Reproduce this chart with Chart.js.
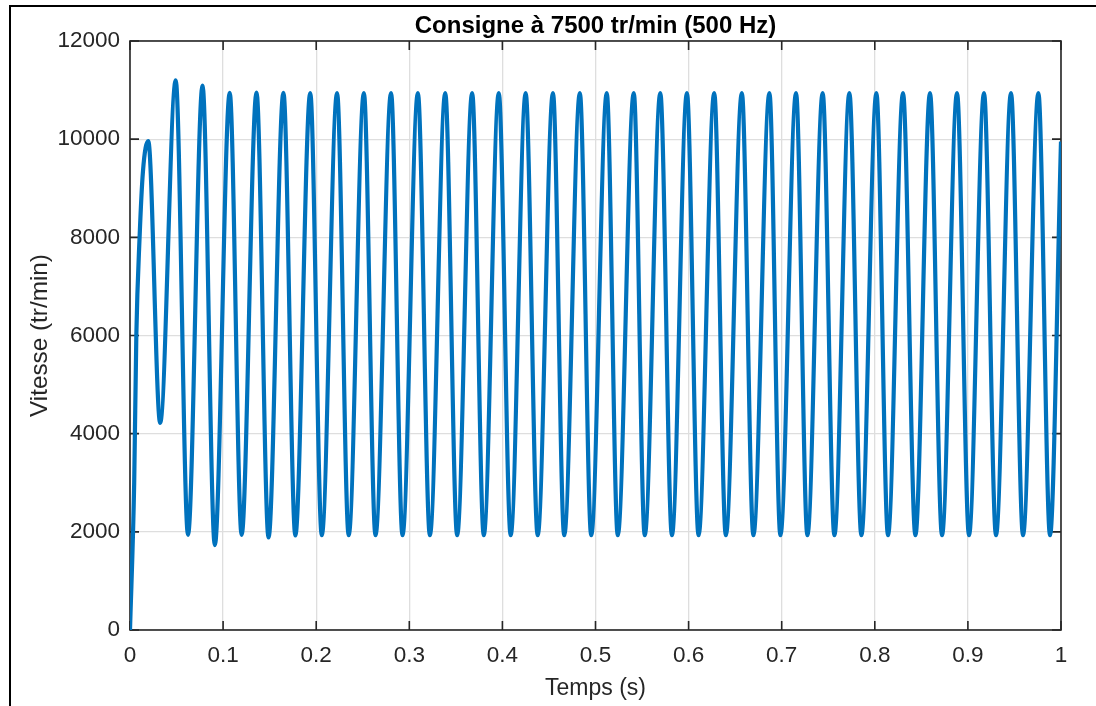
<!DOCTYPE html>
<html>
<head>
<meta charset="utf-8">
<script src="https://cdn.jsdelivr.net/npm/chart.js@4/dist/chart.umd.min.js"></script>
<style>
  html, body { margin: 0; padding: 0; background: #fff; }
  #wrap { position: relative; width: 1096px; height: 706px; overflow: hidden; }
  #frame {
    position: absolute; left: 9px; top: 5px; width: 1200px; height: 800px;
    border-top: 2px solid #000; border-left: 2px solid #000; pointer-events: none;
  }
</style>
</head>
<body>
<div id="wrap">
  <canvas id="speed" width="1096" height="706"></canvas>
  <div id="frame"></div>
</div>
<script>
/* Vitesse moteur, consigne 7500 tr/min : valeurs */

const TITLE = 'Consigne à 7500 tr/min (500 Hz)';

// montée initiale
const riseTimes  = [0, 0.0045, 0.0068, 0.0103, 0.0139];
const riseSpeeds = [0, 3000, 6000, 8000, 9340];

// sommets
const peakTimes = [
  0.0196, 0.0491, 0.0779, 0.1071, 0.1359, 0.1648, 0.1936, 0.2224, 0.2512, 0.2804,
  0.3092, 0.3386, 0.3675, 0.3961, 0.4250, 0.4543, 0.4832, 0.5121, 0.5411, 0.5696,
  0.5982, 0.6275, 0.6572, 0.6868, 0.7154, 0.7440, 0.7727, 0.8017, 0.8303, 0.8593,
  0.8883, 0.9173, 0.9463, 0.9757,
];
const peakSpeeds = [
  9960, 11200, 11090, 10945, 10950, 10945, 10940, 10940, 10940, 10940,
  10940, 10940, 10940, 10940, 10940, 10940, 10940, 10940, 10940, 10940,
  10940, 10940, 10940, 10940, 10940, 10940, 10940, 10940, 10940, 10940,
  10940, 10940, 10940, 10940,
];

// creux
const troughTimes = [
  0.0324, 0.0623, 0.0911, 0.1199, 0.1488, 0.1776, 0.2060, 0.2349, 0.2637, 0.2927,
  0.3221, 0.3514, 0.3800, 0.4089, 0.4379, 0.4664, 0.4954, 0.5239, 0.5529, 0.5821,
  0.6107, 0.6400, 0.6696, 0.6986, 0.7276, 0.7566, 0.7856, 0.8142, 0.8436, 0.8722,
  0.9012, 0.9302, 0.9592, 0.9882,
];
const troughSpeeds = [
  4220, 1940, 1730, 1940, 1885, 1925, 1930, 1930, 1930, 1930,
  1930, 1930, 1930, 1930, 1930, 1930, 1930, 1930, 1930, 1930,
  1930, 1930, 1930, 1930, 1930, 1930, 1930, 1930, 1930, 1930,
  1930, 1930, 1930, 1930,
];

// dernier échantillon
const endTimes  = [1.0];
const endSpeeds = [9950];

const xTicks = [0, 0.1, 0.2, 0.3, 0.4, 0.5, 0.6, 0.7, 0.8, 0.9, 1];
const yTicks = [0, 2000, 4000, 6000, 8000, 10000, 12000];

const TXT = '#262626';
const FONT = '"Liberation Sans", Arial, Helvetica, sans-serif';

function toPoints(ts, vs) {
  return ts.map((t, i) => ({ x: t, y: vs[i] }));
}

const points = []
  .concat(toPoints(riseTimes, riseSpeeds))
  .concat(toPoints(peakTimes, peakSpeeds))
  .concat(toPoints(troughTimes, troughSpeeds))
  .concat(toPoints(endTimes, endSpeeds))
  .sort((a, b) => a.x - b.x);

// boîte d'axes façon MATLAB : cadre + graduations vers l'intérieur, titre centré sur les axes
const matlabBox = {
  id: 'matlabBox',
  beforeDatasetsDraw(chart) {
    const { ctx, chartArea: a, scales: { x, y } } = chart;
    const len = 9;
    ctx.save();
    ctx.strokeStyle = TXT;
    ctx.lineWidth = 1.6;
    ctx.beginPath();
    xTicks.forEach(v => {
      const px = x.getPixelForValue(v);
      ctx.moveTo(px, a.bottom); ctx.lineTo(px, a.bottom - len);
      ctx.moveTo(px, a.top);    ctx.lineTo(px, a.top + len);
    });
    yTicks.forEach(v => {
      const py = y.getPixelForValue(v);
      ctx.moveTo(a.left, py);  ctx.lineTo(a.left + len, py);
      ctx.moveTo(a.right, py); ctx.lineTo(a.right - len, py);
    });
    ctx.stroke();
    ctx.strokeRect(a.left, a.top, a.right - a.left, a.bottom - a.top);
    ctx.restore();
  },
  afterDraw(chart) {
    const { ctx, chartArea: a } = chart;
    ctx.save();
    ctx.fillStyle = '#000';
    ctx.font = 'bold 24px ' + FONT;
    ctx.textAlign = 'center';
    ctx.textBaseline = 'middle';
    ctx.fillText(TITLE, (a.left + a.right) / 2, 26);
    ctx.restore();
  },
};

new Chart(document.getElementById('speed'), {
  type: 'line',
  data: {
    datasets: [{
      data: points,
      borderColor: '#0072BD',
      borderWidth: 4.2,
      pointRadius: 0,
      fill: false,
      cubicInterpolationMode: 'monotone',
    }],
  },
  options: {
    responsive: false,
    animation: false,
    devicePixelRatio: 1,
    layout: { padding: { left: 0, right: 35, top: 41, bottom: 0 } },
    plugins: {
      legend: { display: false },
      tooltip: { enabled: false },
      title: { display: false },
    },
    scales: {
      x: {
        type: 'linear', min: 0, max: 1,
        afterFit: s => { s.height = 76; },
        afterBuildTicks: s => { s.ticks = xTicks.map(v => ({ value: v })); },
        grid: { color: '#dedede', lineWidth: 1.3, drawTicks: false },
        border: { display: false },
        ticks: {
          color: TXT, padding: 12, maxRotation: 0, autoSkip: false,
          font: { family: FONT, size: 22.5 },
          callback: v => String(+v.toFixed(1)),
        },
        title: {
          display: true, text: 'Temps (s)', color: TXT,
          font: { family: FONT, size: 23 },
          padding: { top: 0, bottom: 4 },
        },
      },
      y: {
        min: 0, max: 12000,
        afterFit: s => { s.width = 130; },
        afterBuildTicks: s => { s.ticks = yTicks.map(v => ({ value: v })); },
        grid: { color: '#dedede', lineWidth: 1.3, drawTicks: false },
        border: { display: false },
        ticks: {
          color: TXT, padding: 10, autoSkip: false,
          font: { family: FONT, size: 22.5 },
          callback: v => String(v),
        },
        title: {
          display: true, text: 'Vitesse (tr/min)', color: TXT,
          font: { family: FONT, size: 24.3 },
          padding: { top: 26, bottom: 0 },
        },
      },
    },
  },
  plugins: [matlabBox],
});
</script>
</body>
</html>
